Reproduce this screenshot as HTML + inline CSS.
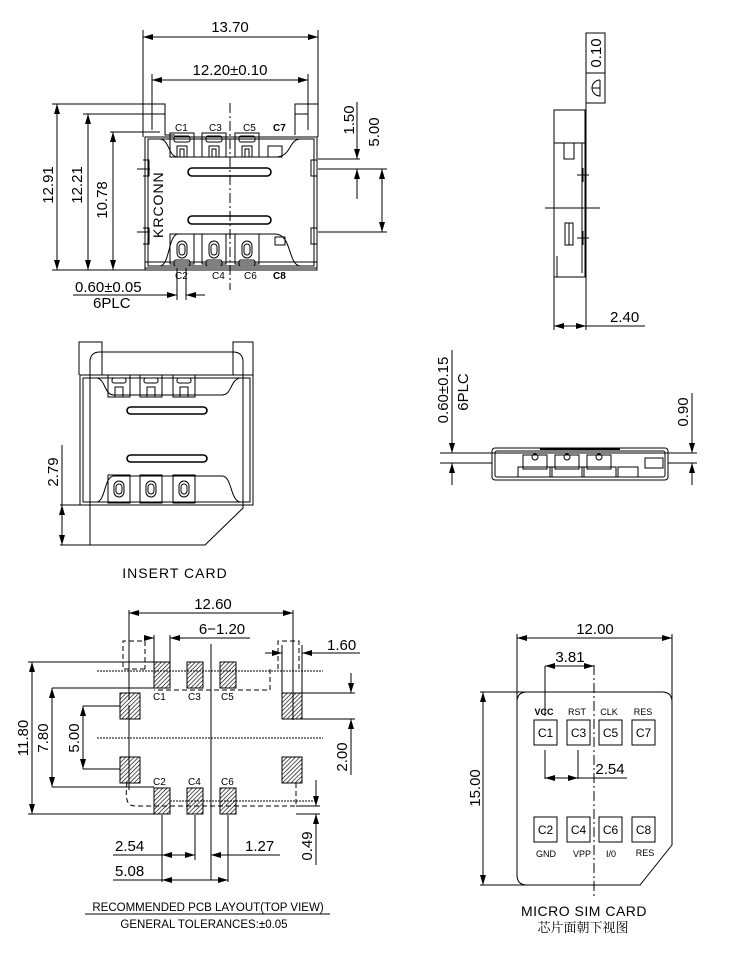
<!DOCTYPE html>
<html><head><meta charset="utf-8"><style>
html,body{margin:0;padding:0;background:#fff;}
svg{display:block;}
text{font-family:"Liberation Sans","Noto Sans CJK SC",sans-serif;fill:#000;}
.d{font-size:15px;}
.s{font-size:10px;}
</style></head><body>
<svg width="750" height="972" viewBox="0 0 750 972" xmlns="http://www.w3.org/2000/svg" fill="none" stroke="#000" stroke-width="1">
<defs>
<marker id="a" viewBox="0 0 10 6" refX="10" refY="3" markerWidth="10" markerHeight="6" orient="auto-start-reverse" markerUnits="userSpaceOnUse"><path d="M0,0 L10,3 L0,6 z" fill="#000" stroke="none"/></marker>
<pattern id="h" width="3" height="3" patternUnits="userSpaceOnUse" patternTransform="rotate(45)"><line x1="0" y1="0" x2="0" y2="3" stroke="#000" stroke-width="1.3"/></pattern>
</defs>

<!-- ================= TOP VIEW ================= -->
<g>
<line x1="143" y1="30" x2="143" y2="104"/><line x1="318" y1="30" x2="318" y2="104"/>
<line x1="143" y1="37" x2="318" y2="37" marker-start="url(#a)" marker-end="url(#a)"/>
<text class="d" x="230" y="32" text-anchor="middle" stroke="none">13.70</text>
<line x1="152" y1="74" x2="152" y2="130"/><line x1="308" y1="74" x2="308" y2="130"/>
<line x1="152" y1="80" x2="308" y2="80" marker-start="url(#a)" marker-end="url(#a)"/>
<text class="d" x="230" y="75" text-anchor="middle" stroke="none">12.20±0.10</text>
<line x1="52" y1="104" x2="143" y2="104"/><line x1="57" y1="104" x2="57" y2="270" marker-start="url(#a)" marker-end="url(#a)"/>
<line x1="83" y1="114" x2="152" y2="114"/><line x1="88" y1="114" x2="88" y2="270" marker-start="url(#a)" marker-end="url(#a)"/>
<line x1="110" y1="132" x2="160" y2="132"/><line x1="113" y1="132" x2="113" y2="270" marker-start="url(#a)" marker-end="url(#a)"/>
<line x1="52" y1="270" x2="145" y2="270"/>
<text class="d" transform="translate(53,185) rotate(-90)" text-anchor="middle" stroke="none">12.91</text>
<text class="d" transform="translate(82,185) rotate(-90)" text-anchor="middle" stroke="none">12.21</text>
<text class="d" transform="translate(107,200) rotate(-90)" text-anchor="middle" stroke="none">10.78</text>
<path d="M143,104 H165 V135 H175 M295,135 V104 H318 V137"/>
<path d="M143,104 V137 M152,114 H165 M295,114 H308"/>
<rect x="145" y="137" width="172" height="131"/>
<rect x="148" y="139" width="166" height="127"/>
<path d="M160,139 C170,140 168,157 178,157 H275 C292,157 288,140 300,139"/>
<path d="M160,266 C170,265 168,235 178,234 H275 C292,234 288,265 300,266"/>
<rect x="145" y="262" width="172" height="8"/>
<g id="tc">
<rect x="170" y="133" width="24" height="24"/><rect x="174" y="136" width="16" height="6" rx="2"/><path d="M177,157 V146 h10 V157"/><path d="M180,157 V149 h4 V157"/>
</g>
<use href="#tc" x="32"/><use href="#tc" x="65"/>
<rect x="268" y="146" width="14" height="11"/>
<g id="bc">
<rect x="170" y="234" width="24" height="30"/><rect x="177" y="241" width="10" height="17" rx="5"/><rect x="179" y="244" width="6" height="11" rx="3"/><rect x="174" y="260" width="16" height="6" rx="2"/>
</g>
<use href="#bc" x="32"/><use href="#bc" x="65"/>
<rect x="275" y="237" width="10" height="8"/>
<rect x="188" y="168" width="83" height="8" rx="4" stroke-width="1.6"/>
<rect x="188" y="216" width="83" height="8" rx="4" stroke-width="1.6"/>
<line x1="230" y1="103" x2="230" y2="290" stroke-dasharray="10,3,2,3"/>
<text x="163" y="238" font-size="14" transform="rotate(-90 163 238)" stroke="none" letter-spacing="1">KRCONN</text>
<path d="M143,160 h6 v16 h-6 M143,228 h6 v16 h-6 M317,160 h-6 v16 h6 M317,228 h-6 v16 h6"/>
<line x1="137" y1="169" x2="150" y2="169"/><line x1="137" y1="232" x2="150" y2="232"/>
<g stroke="none" font-size="10"><text x="175" y="131">C1</text><text x="209" y="131">C3</text><text x="243" y="131">C5</text><text x="273" y="131" font-weight="bold">C7</text>
<text x="175" y="279">C2</text><text x="212" y="279">C4</text><text x="244" y="279">C6</text><text x="273" y="279" font-weight="bold">C8</text></g>
<line x1="318" y1="159" x2="360" y2="159"/><line x1="318" y1="169" x2="387" y2="169"/><line x1="318" y1="232" x2="387" y2="232"/>
<line x1="357" y1="102" x2="357" y2="159" marker-end="url(#a)"/><line x1="357" y1="169" x2="357" y2="199" marker-start="url(#a)"/>
<line x1="382" y1="169" x2="382" y2="232" marker-start="url(#a)" marker-end="url(#a)"/>
<text class="d" transform="translate(354,120) rotate(-90)" text-anchor="middle" stroke="none">1.50</text>
<text class="d" transform="translate(379,132) rotate(-90)" text-anchor="middle" stroke="none">5.00</text>
<line x1="177" y1="268" x2="177" y2="300"/><line x1="186" y1="268" x2="186" y2="300"/>
<line x1="73" y1="295" x2="177" y2="295" marker-end="url(#a)"/><line x1="186" y1="295" x2="205" y2="295" marker-start="url(#a)"/>
<text class="d" x="75" y="292" stroke="none">0.60±0.05</text>
<text class="d" x="93" y="308" stroke="none">6PLC</text>
</g>

<!-- ================= SIDE VIEW ================= -->
<g>
<rect x="586" y="33" width="19" height="70"/><line x1="586" y1="73" x2="605" y2="73"/>
<text class="d" transform="translate(601,53) rotate(-90)" text-anchor="middle" stroke="none">0.10</text>
<path d="M600,80 V96 A8,8 0 0 1 600,80 M592,88 H600"/>
<line x1="586" y1="103" x2="586" y2="330"/>
<rect x="554" y="110" width="31" height="167"/>
<line x1="554" y1="143" x2="585" y2="143"/>
<path d="M564,143 v16 h10 v-16"/>
<path d="M557,256 v21 M582,143 v130"/>
<rect x="565" y="223" width="8" height="22"/><line x1="569" y1="223" x2="569" y2="245"/>
<line x1="545" y1="208" x2="600" y2="208"/>
<line x1="577" y1="175" x2="589" y2="175"/><line x1="583" y1="168" x2="583" y2="182"/>
<line x1="577" y1="238" x2="589" y2="238"/><line x1="583" y1="231" x2="583" y2="245"/>
<line x1="554" y1="277" x2="554" y2="330"/>
<line x1="554" y1="326" x2="586" y2="326" marker-start="url(#a)" marker-end="url(#a)"/>
<line x1="586" y1="326" x2="645" y2="326"/>
<text class="d" x="610" y="322" stroke="none">2.40</text>
</g>

<!-- ================= FRONT VIEW ================= -->
<g>
<rect x="492" y="448" width="176" height="32" rx="3"/>
<rect x="495" y="451" width="170" height="26" rx="2"/>
<line x1="540" y1="449" x2="620" y2="449" stroke-width="2"/>
<g id="fc"><rect x="523" y="455" width="24" height="14"/><rect x="518" y="467" width="34" height="10"/><circle cx="535" cy="457" r="3"/></g>
<use href="#fc" x="32"/><use href="#fc" x="64"/>
<rect x="618" y="467" width="20" height="10"/><rect x="645" y="458" width="18" height="10"/>
<line x1="440" y1="453" x2="697" y2="453"/><line x1="440" y1="463" x2="492" y2="463"/><line x1="668" y1="463" x2="697" y2="463"/>
<line x1="452" y1="350" x2="452" y2="453" marker-end="url(#a)"/><line x1="452" y1="463" x2="452" y2="485" marker-start="url(#a)"/>
<text class="d" transform="translate(448,390) rotate(-90)" text-anchor="middle" stroke="none">0.60±0.15</text>
<text class="d" transform="translate(468,392) rotate(-90)" text-anchor="middle" stroke="none">6PLC</text>
<line x1="692" y1="393" x2="692" y2="453" marker-end="url(#a)"/><line x1="692" y1="463" x2="692" y2="485" marker-start="url(#a)"/>
<text class="d" transform="translate(688,412) rotate(-90)" text-anchor="middle" stroke="none">0.90</text>
</g>

<!-- ================= INSERT CARD ================= -->
<g>
<path d="M79,375 V342 H102 V375 M233,375 V342 H253 V375"/>
<path d="M90,545 V362 Q90,352 100,352 H233 Q243,352 243,362 V508 L205,545 Z"/>
<rect x="80" y="375" width="173" height="130"/>
<rect x="83" y="378" width="167" height="124"/>
<path d="M97,378 C106,380 104,395 114,395 H222 C232,395 230,380 240,378"/>
<path d="M97,502 C106,500 104,476 114,476 H222 C232,476 230,500 240,502"/>
<g id="ic"><rect x="108" y="375" width="22" height="22"/><rect x="112" y="378" width="14" height="5" rx="2"/><path d="M115,397 v-10 h8 v10"/></g>
<use href="#ic" x="32"/><use href="#ic" x="65"/>
<g id="ib"><rect x="108" y="475" width="22" height="28"/><rect x="114" y="481" width="10" height="16" rx="5"/><rect x="116" y="484" width="6" height="10" rx="3"/></g>
<use href="#ib" x="32"/><use href="#ib" x="65"/>
<rect x="127" y="407" width="80" height="7" rx="3.5" stroke-width="1.6"/>
<rect x="127" y="455" width="80" height="7" rx="3.5" stroke-width="1.6"/>
<line x1="60" y1="505" x2="85" y2="505"/><line x1="60" y1="545" x2="205" y2="545"/>
<line x1="62" y1="445" x2="62" y2="505"/><line x1="62" y1="505" x2="62" y2="545" marker-start="url(#a)" marker-end="url(#a)"/>
<text class="d" transform="translate(58,472) rotate(-90)" text-anchor="middle" stroke="none">2.79</text>
<text x="175" y="578" font-size="14" text-anchor="middle" stroke="none" letter-spacing="1">INSERT  CARD</text>
</g>

<!-- ================= PCB LAYOUT ================= -->
<g>
<line x1="129" y1="610" x2="129" y2="700"/><line x1="293" y1="610" x2="293" y2="720"/>
<line x1="129" y1="613" x2="293" y2="613" marker-start="url(#a)" marker-end="url(#a)"/>
<text class="d" x="213" y="609" text-anchor="middle" stroke="none">12.60</text>
<line x1="154" y1="635" x2="154" y2="662"/><line x1="170" y1="635" x2="170" y2="662"/>
<line x1="170" y1="638" x2="250" y2="638" marker-start="url(#a)"/>
<line x1="145" y1="638" x2="154" y2="638" marker-end="url(#a)"/>
<text class="d" x="222" y="634" text-anchor="middle" stroke="none">6−1.20</text>
<g stroke-dasharray="5,3">
<path d="M145,669 H123 V641 H145 V669"/>
<path d="M270,669 V690 H154"/>
<path d="M278,669 V641 H299 V669"/>
<path d="M127,782 C125,800 127,806 135,806 H296 L296,782"/>
</g>
<line x1="97" y1="671" x2="323" y2="671" stroke-dasharray="2,1"/>
<line x1="97" y1="738" x2="323" y2="738" stroke-dasharray="2,1"/>
<line x1="170" y1="801" x2="316" y2="801" stroke-dasharray="2,1"/>
<line x1="211" y1="644" x2="211" y2="880"/>
<g fill="url(#h)">
<rect x="154" y="662" width="16" height="26"/><rect x="187" y="662" width="16" height="26"/><rect x="220" y="662" width="16" height="26"/>
<rect x="154" y="788" width="16" height="26"/><rect x="187" y="788" width="16" height="26"/><rect x="220" y="788" width="16" height="26"/>
<rect x="120" y="693" width="20" height="26"/><rect x="120" y="757" width="20" height="26"/>
<rect x="282" y="693" width="20" height="26"/><rect x="282" y="757" width="20" height="26"/>
</g>
<line x1="129" y1="705" x2="129" y2="790"/>
<g stroke="none" font-size="10"><text x="153" y="700">C1</text><text x="188" y="700">C3</text><text x="221" y="700">C5</text>
<text x="153" y="785">C2</text><text x="188" y="785">C4</text><text x="221" y="785">C6</text></g>
<line x1="28" y1="662" x2="154" y2="662"/><line x1="28" y1="814" x2="154" y2="814"/>
<line x1="32" y1="662" x2="32" y2="814" marker-start="url(#a)" marker-end="url(#a)"/>
<text class="d" transform="translate(28,738) rotate(-90)" text-anchor="middle" stroke="none">11.80</text>
<line x1="52" y1="688" x2="154" y2="688"/><line x1="52" y1="787" x2="154" y2="787"/>
<line x1="52" y1="688" x2="52" y2="787" marker-start="url(#a)" marker-end="url(#a)"/>
<text class="d" transform="translate(48,738) rotate(-90)" text-anchor="middle" stroke="none">7.80</text>
<line x1="83" y1="706" x2="120" y2="706"/><line x1="83" y1="769" x2="120" y2="769"/>
<line x1="83" y1="706" x2="83" y2="769" marker-start="url(#a)" marker-end="url(#a)"/>
<text class="d" transform="translate(79,738) rotate(-90)" text-anchor="middle" stroke="none">5.00</text>
<line x1="265" y1="653" x2="282" y2="653" marker-end="url(#a)"/><line x1="302" y1="653" x2="360" y2="653" marker-start="url(#a)"/>
<line x1="282" y1="645" x2="282" y2="693"/><line x1="302" y1="645" x2="302" y2="693"/>
<text class="d" x="327" y="650" stroke="none">1.60</text>
<line x1="302" y1="693" x2="355" y2="693"/><line x1="302" y1="719" x2="355" y2="719"/>
<line x1="351" y1="673" x2="351" y2="693" marker-end="url(#a)"/><line x1="351" y1="719" x2="351" y2="775" marker-start="url(#a)"/>
<text class="d" transform="translate(347,757) rotate(-90)" text-anchor="middle" stroke="none">2.00</text>
<line x1="296" y1="806" x2="320" y2="806"/><line x1="296" y1="814" x2="320" y2="814"/>
<line x1="316" y1="780" x2="316" y2="806" marker-end="url(#a)"/><line x1="316" y1="814" x2="316" y2="865" marker-start="url(#a)"/>
<text class="d" transform="translate(312,846) rotate(-90)" text-anchor="middle" stroke="none">0.49</text>
<line x1="162" y1="815" x2="162" y2="882"/><line x1="195" y1="815" x2="195" y2="860"/><line x1="228" y1="815" x2="228" y2="882"/>
<line x1="113" y1="855" x2="162" y2="855"/><line x1="162" y1="855" x2="195" y2="855" marker-start="url(#a)" marker-end="url(#a)"/>
<line x1="211" y1="855" x2="280" y2="855" marker-start="url(#a)"/>
<text class="d" x="115" y="851" stroke="none">2.54</text>
<text class="d" x="245" y="851" stroke="none">1.27</text>
<line x1="113" y1="880" x2="162" y2="880"/><line x1="162" y1="880" x2="228" y2="880" marker-start="url(#a)" marker-end="url(#a)"/>
<text class="d" x="115" y="876" stroke="none">5.08</text>
<text x="208" y="911" font-size="11.5" text-anchor="middle" stroke="none">RECOMMENDED  PCB  LAYOUT(TOP  VIEW)</text>
<line x1="85" y1="914" x2="330" y2="914"/>
<text x="204" y="928" font-size="11.5" text-anchor="middle" stroke="none">GENERAL  TOLERANCES:±0.05</text>
</g>

<!-- ================= MICRO SIM ================= -->
<g>
<line x1="517" y1="634" x2="517" y2="700"/><line x1="672" y1="634" x2="672" y2="700"/>
<line x1="517" y1="638" x2="672" y2="638" marker-start="url(#a)" marker-end="url(#a)"/>
<text class="d" x="595" y="634" text-anchor="middle" stroke="none">12.00</text>
<path d="M527,692 H662 Q672,692 672,702 V845 L640,885 H527 Q517,885 517,875 V702 Q517,692 527,692 Z"/>
<line x1="480" y1="692" x2="527" y2="692"/><line x1="480" y1="885" x2="527" y2="885"/>
<line x1="483" y1="692" x2="483" y2="885" marker-start="url(#a)" marker-end="url(#a)"/>
<text class="d" transform="translate(480,788) rotate(-90)" text-anchor="middle" stroke="none">15.00</text>
<line x1="545" y1="666" x2="545" y2="716"/>
<line x1="545" y1="666" x2="594" y2="666" marker-start="url(#a)" marker-end="url(#a)"/>
<text class="d" x="570" y="662" text-anchor="middle" stroke="none">3.81</text>
<line x1="594" y1="665" x2="594" y2="897" stroke-dasharray="10,3,2,3"/>
<g>
<rect x="534" y="720" width="23" height="25"/><rect x="567" y="720" width="23" height="25"/><rect x="599" y="720" width="23" height="25"/><rect x="632" y="720" width="23" height="25"/>
<rect x="534" y="817" width="23" height="25"/><rect x="567" y="817" width="23" height="25"/><rect x="599" y="817" width="23" height="25"/><rect x="632" y="817" width="23" height="25"/>
</g>
<g stroke="none" font-size="12" text-anchor="middle">
<text x="545.5" y="737">C1</text><text x="578.5" y="737">C3</text><text x="610.5" y="737">C5</text><text x="643.5" y="737">C7</text>
<text x="545.5" y="834">C2</text><text x="578.5" y="834">C4</text><text x="610.5" y="834">C6</text><text x="643.5" y="834">C8</text>
</g>
<g stroke="none" font-size="9" text-anchor="middle">
<text x="544" y="715" font-weight="bold">VCC</text><text x="577" y="715">RST</text><text x="609" y="715">CLK</text><text x="643" y="715">RES</text>
<text x="546" y="857">GND</text><text x="582" y="857">VPP</text><text x="611" y="857">I/0</text><text x="645" y="856">RES</text>
</g>
<line x1="545" y1="750" x2="545" y2="779"/><line x1="578" y1="750" x2="578" y2="779"/>
<line x1="545" y1="778" x2="578" y2="778" marker-start="url(#a)" marker-end="url(#a)"/>
<line x1="578" y1="778" x2="627" y2="778"/>
<text class="d" x="610" y="774" text-anchor="middle" stroke="none">2.54</text>
<text x="584" y="916" font-size="14" text-anchor="middle" stroke="none" letter-spacing="0.5">MICRO  SIM  CARD</text>
<text x="583" y="932" font-size="13" text-anchor="middle" stroke="none" style="font-family:'Noto Serif CJK SC','Noto Sans CJK SC',serif">芯片面朝下视图</text>
</g>
</svg>
</body></html>
